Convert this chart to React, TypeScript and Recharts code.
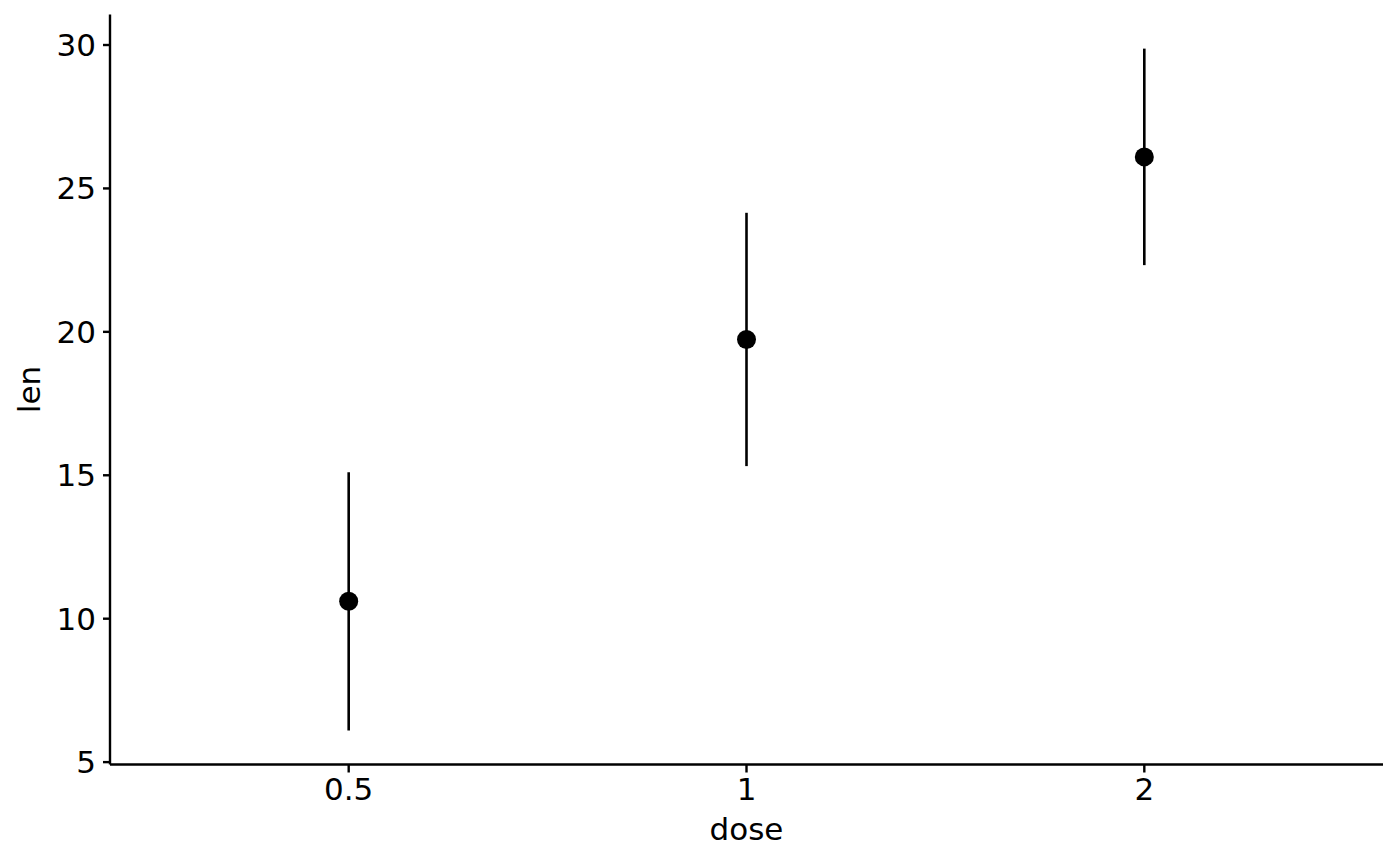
import React from "react";
import { ComposedChart, Scatter, XAxis, YAxis, ErrorBar, Label } from "recharts";

const doses = ["0.5", "1", "2"];
const means = [10.605, 19.735, 26.1];
const sds = [4.4998, 4.4154, 3.774];
const yTicks = [5, 10, 15, 20, 25, 30];

const data = doses.map((d, i) => ({ x: i + 1, y: means[i], err: [sds[i], sds[i]] }));

const FONT = "DejaVu Sans, sans-serif";

const Dot = (props: any) => <circle cx={props.cx} cy={props.cy} r={9.5} fill="#000" />;

export default function App() {
  return (
    <div style={{ position: "absolute", left: 0, top: 0, width: 1400, height: 866, background: "#fff" }}>
      <ComposedChart width={1400} height={866} data={data} margin={{ top: 14.6, right: 17, bottom: 0, left: 0 }}>
        <XAxis
          dataKey="x"
          type="number"
          domain={[0.4, 3.6]}
          ticks={[1, 2, 3]}
          tickFormatter={(v: number) => doses[v - 1]}
          height={101.5}
          axisLine={{ stroke: "#000", strokeWidth: 2.4 }}
          tickLine={{ stroke: "#000", strokeWidth: 2.4 }}
          tickSize={8}
          tickMargin={5}
          tick={{ fill: "#000", fontSize: 31, fontFamily: FONT }}
          interval={0}
        >
          <Label
            content={({ viewBox }: any) => (
              <text x={viewBox.x + viewBox.width / 2} y={840} textAnchor="middle" fontSize={31} fontFamily={FONT} fill="#000">
                dose
              </text>
            )}
          />
        </XAxis>
        <YAxis
          type="number"
          domain={[4.917, 31.06]}
          ticks={yTicks}
          width={110}
          axisLine={{ stroke: "#000", strokeWidth: 2.4 }}
          tickLine={{ stroke: "#000", strokeWidth: 2.4 }}
          tickSize={7}
          tickMargin={7}
          tick={{ fill: "#000", fontSize: 31, fontFamily: FONT }}
          interval={0}
        >
          <Label
            content={({ viewBox }: any) => {
              const cx = 40;
              const cy = viewBox.y + viewBox.height / 2;
              return (
                <text x={cx} y={cy} transform={`rotate(-90 ${cx} ${cy})`} textAnchor="middle" fontSize={31} fontFamily={FONT} fill="#000">
                  len
                </text>
              );
            }}
          />
        </YAxis>
        <Scatter dataKey="y" shape={Dot} isAnimationActive={false}>
          <ErrorBar dataKey="err" direction="y" width={0} stroke="#000" strokeWidth={2.6} style={{ strokeWidth: 2.6 }} />
        </Scatter>
      </ComposedChart>
    </div>
  );
}
